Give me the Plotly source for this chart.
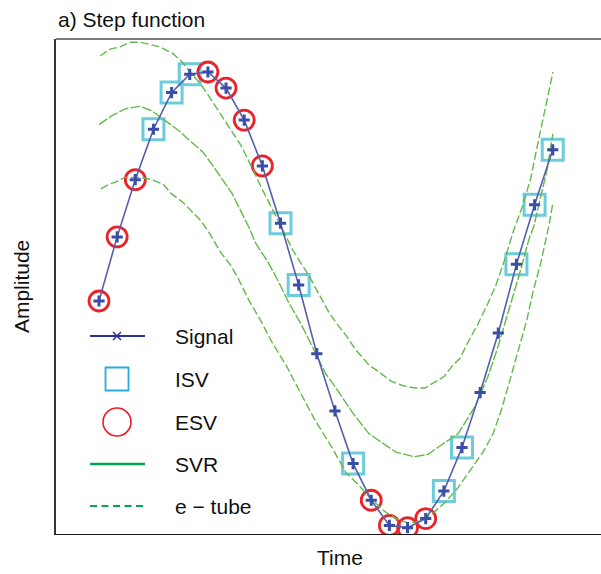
import plotly.graph_objects as go

# ---- data -------------------------------------------------------------
time = list(range(26))
signal = [0.00, 0.28, 0.53, 0.75, 0.91, 0.99, 1.00, 0.93, 0.79, 0.59, 0.34,
          0.07, -0.23, -0.48, -0.71, -0.87, -0.98, -0.99, -0.95, -0.83, -0.64,
          -0.40, -0.14, 0.16, 0.42, 0.66]

# support vectors (indices into the signal samples)
isv_idx = [3, 4, 5, 10, 11, 14, 19, 20, 23, 24, 25]
esv_idx = [0, 1, 2, 6, 7, 8, 9, 15, 16, 17, 18]

# SVR estimate
svr_t = [0.00, 0.72, 1.49, 2.26, 2.92, 3.80, 4.46, 5.01, 5.73, 6.28, 6.83,
         7.33, 7.77, 8.21, 8.65, 9.31, 9.92, 10.47, 11.13, 11.63, 12.07,
         12.51, 13.06, 13.99, 14.88, 15.65, 16.36, 17.36, 18.13, 18.84, 19.78,
         20.72, 21.43, 21.98, 22.65, 23.14, 23.69, 23.97, 24.35, 24.68, 25.01]
svr_y = [0.77, 0.81, 0.84, 0.85, 0.83, 0.78, 0.74, 0.70, 0.65, 0.59, 0.53,
         0.47, 0.40, 0.33, 0.25, 0.17, 0.08, -0.01, -0.10, -0.18, -0.25,
         -0.32, -0.38, -0.49, -0.58, -0.62, -0.66, -0.68, -0.67, -0.63, -0.58,
         -0.46, -0.33, -0.20, -0.02, 0.11, 0.27, 0.33, 0.46, 0.57, 0.73]

# upper edge of the e-tube
tube_up_t = [0.06, 0.61, 1.16, 1.71, 2.26, 2.81, 3.36, 4.08, 4.63, 5.01, 5.57,
             6.01, 6.67, 7.49, 7.82, 8.38, 8.98, 9.75, 10.19, 10.69, 11.57,
             12.23, 12.67, 13.11, 13.61, 14.11, 14.88, 15.43, 16.09, 16.75,
             17.41, 17.96, 18.40, 19.01, 19.50, 19.89, 20.33, 20.88, 21.43,
             21.87, 22.31, 22.81, 23.36, 23.80, 24.13, 24.52, 25.01]
tube_up_y = [1.07, 1.10, 1.11, 1.13, 1.13, 1.12, 1.11, 1.08, 1.04, 1.00, 0.95,
             0.90, 0.82, 0.72, 0.68, 0.59, 0.49, 0.37, 0.30, 0.22, 0.11,
             0.01, -0.05, -0.10, -0.15, -0.21, -0.28, -0.31, -0.35, -0.37,
             -0.38, -0.38, -0.36, -0.33, -0.28, -0.25, -0.18, -0.10, -0.01,
             0.07, 0.17, 0.30, 0.42, 0.54, 0.67, 0.82, 1.00]

# lower edge of the e-tube
tube_lo_t = [0.11, 0.55, 0.94, 1.43, 2.26, 2.92, 3.53, 3.97, 4.63, 5.23, 5.62,
             6.06, 6.45, 6.72, 7.22, 7.66, 8.21, 8.87, 9.53, 10.30, 10.96,
             11.90, 12.84, 13.61, 14.27, 14.93, 15.76, 16.58, 17.14, 17.69,
             18.35, 19.06, 19.73, 20.44, 21.16, 21.71, 22.15, 22.59, 23.09,
             23.58, 23.91, 24.35, 24.79, 25.01]
tube_lo_y = [0.49, 0.51, 0.52, 0.54, 0.54, 0.53, 0.51, 0.47, 0.43, 0.38, 0.35,
             0.30, 0.25, 0.21, 0.16, 0.10, 0.01, -0.08, -0.18, -0.28, -0.38,
             -0.52, -0.64, -0.75, -0.80, -0.86, -0.92, -0.96, -0.97, -0.96,
             -0.93, -0.88, -0.82, -0.74, -0.66, -0.58, -0.48, -0.36, -0.22,
             -0.08, 0.04, 0.17, 0.33, 0.43]

legend_labels = ["Signal", "ISV", "ESV", "SVR", "e \u2212 tube"]

# ---- styles -----------------------------------------------------------
FONT = "Liberation Sans, Arial, Helvetica, sans-serif"
SIG_LINE = "#5560ad"
SIG_MARK = "#3a4ea6"
ISV_COL = "#6ccbdc"
ESV_COL = "#ec2229"
CURVE_COL = "#62ba48"

W, H = 601, 574
L, R, T, B = 56, 0, 39, 40

fig = go.Figure()

# support-vector markers
fig.add_trace(go.Scatter(
    x=[time[i] for i in isv_idx], y=[signal[i] for i in isv_idx],
    mode="markers", showlegend=False,
    marker=dict(symbol="square-open", size=21, color=ISV_COL,
                line=dict(width=3, color=ISV_COL))))
fig.add_trace(go.Scatter(
    x=[time[i] for i in esv_idx], y=[signal[i] for i in esv_idx],
    mode="markers", showlegend=False,
    marker=dict(symbol="circle-open", size=20, color=ESV_COL,
                line=dict(width=2.8, color=ESV_COL))))

# regression and e-tube
fig.add_trace(go.Scatter(x=tube_up_t, y=tube_up_y, mode="lines", showlegend=False,
                         line=dict(color=CURVE_COL, width=1.4, dash="8px,3px")))
fig.add_trace(go.Scatter(x=svr_t, y=svr_y, mode="lines", showlegend=False,
                         line=dict(color=CURVE_COL, width=1.4, dash="10px,2px")))
fig.add_trace(go.Scatter(x=tube_lo_t, y=tube_lo_y, mode="lines", showlegend=False,
                         line=dict(color=CURVE_COL, width=1.4, dash="8px,3px")))

# sampled signal
fig.add_trace(go.Scatter(
    x=time, y=signal, mode="lines+markers", showlegend=False,
    line=dict(color=SIG_LINE, width=1.6),
    marker=dict(symbol="cross-thin", size=8, color=SIG_MARK,
                line=dict(width=3, color=SIG_MARK))))

# ---- legend, drawn on a pixel-scaled overlay axis ------------------------
lx0, lx1, lxm, ltx = 90, 145, 117, 173
rows = [336, 379, 422, 464, 506]
LEG_SIG = "#2e3192"
LEG_ISV = "#29abe2"
LEG_ESV = "#ed1c24"
LEG_GRN = "#00a651"

fig.add_trace(go.Scatter(x=[lx0, lx1], y=[rows[0]] * 2, xaxis="x2", yaxis="y2",
                         mode="lines", showlegend=False,
                         line=dict(color=LEG_SIG, width=2)))
fig.add_trace(go.Scatter(x=[lxm], y=[rows[0]], xaxis="x2", yaxis="y2",
                         mode="markers", showlegend=False,
                         marker=dict(symbol="x-thin", size=8, color=LEG_SIG,
                                     line=dict(width=1.5, color=LEG_SIG))))
fig.add_trace(go.Scatter(x=[lxm], y=[rows[1]], xaxis="x2", yaxis="y2",
                         mode="markers", showlegend=False,
                         marker=dict(symbol="square-open", size=23, color=LEG_ISV,
                                     line=dict(width=1.8, color=LEG_ISV))))
fig.add_trace(go.Scatter(x=[lxm], y=[rows[2]], xaxis="x2", yaxis="y2",
                         mode="markers", showlegend=False,
                         marker=dict(symbol="circle-open", size=28, color=LEG_ESV,
                                     line=dict(width=1.6, color=LEG_ESV))))
fig.add_trace(go.Scatter(x=[lx0, lx1], y=[rows[3]] * 2, xaxis="x2", yaxis="y2",
                         mode="lines", showlegend=False,
                         line=dict(color=LEG_GRN, width=2.5)))
fig.add_trace(go.Scatter(x=[lx0, lx1], y=[rows[4]] * 2, xaxis="x2", yaxis="y2",
                         mode="lines", showlegend=False,
                         line=dict(color=LEG_GRN, width=2, dash="7px,4.5px")))

annotations = []
for label, ry in zip(legend_labels, rows):
    annotations.append(dict(x=ltx, y=ry, xref="x2", yref="y2", text=label,
                            showarrow=False, xanchor="left", yanchor="middle",
                            font=dict(family=FONT, size=21, color="#111111")))

# axis titles
annotations.append(dict(x=(340 - L) / (W - L - R), y=-0.02, xref="paper", yref="paper",
                        text="Time", showarrow=False, xanchor="center", yanchor="top",
                        font=dict(family=FONT, size=21, color="#111111")))
annotations.append(dict(x=-0.02, y=0.5, xref="paper", yref="paper",
                        text="Amplitude", showarrow=False, textangle=-90,
                        xanchor="right", yanchor="middle", xshift=-10,
                        font=dict(family=FONT, size=21, color="#111111")))
# panel title
annotations.append(dict(x=0, y=1, xref="paper", yref="paper", yshift=6,
                        text="a) Step function", showarrow=False,
                        xanchor="left", yanchor="bottom",
                        font=dict(family=FONT, size=21, color="#111111")))

# axis ranges chosen so that one time step spans 18.15 px
x_lo = (L - 99) / 18.15
x_hi = (W - R - 99) / 18.15
y_hi = (301 - T) / 229
y_lo = (301 - (H - B)) / 229

fig.update_layout(
    width=W, height=H,
    margin=dict(l=L, r=R, t=T, b=B, pad=0),
    paper_bgcolor="white", plot_bgcolor="white",
    showlegend=False,
    xaxis=dict(range=[x_lo, x_hi], showgrid=False, zeroline=False,
               showticklabels=False, ticks="", showline=True,
               linecolor="#1a1a1a", linewidth=1.3, fixedrange=True),
    yaxis=dict(range=[y_lo, y_hi], showgrid=False, zeroline=False,
               showticklabels=False, ticks="", showline=True,
               linecolor="#333333", linewidth=1.5, fixedrange=True),
    xaxis2=dict(overlaying="x", range=[L, W - R], visible=False, fixedrange=True),
    yaxis2=dict(overlaying="y", range=[H - B, T], visible=False, fixedrange=True),
    annotations=annotations,
    shapes=[dict(type="line", xref="paper", yref="paper", x0=0, x1=1, y0=1, y1=1,
                 line=dict(color="#7a7a7a", width=2))],
)

fig.write_html("out.html")
